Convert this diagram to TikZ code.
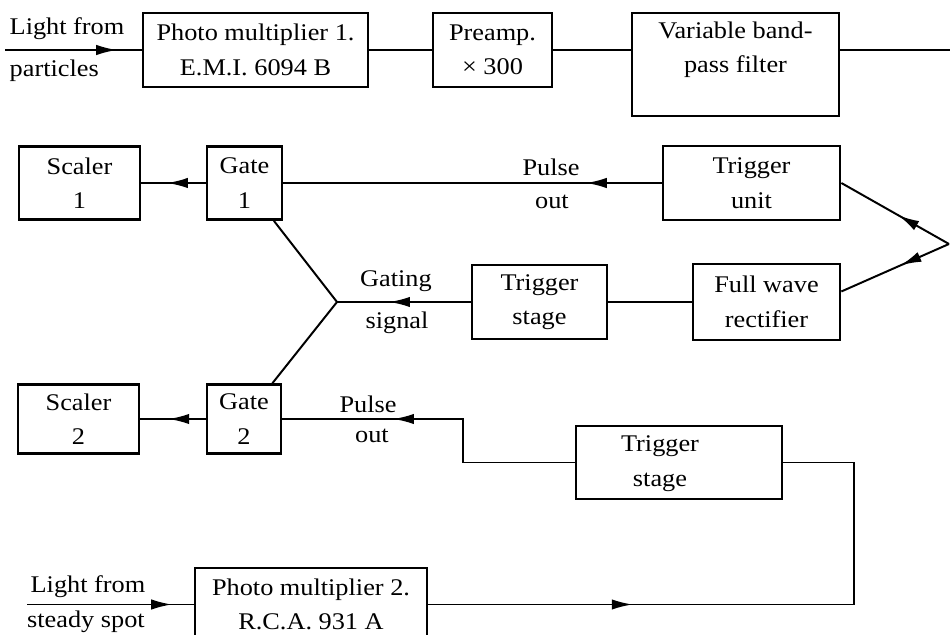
\documentclass[tikz,border=0pt]{standalone}
\usepackage{fontspec}
\setmainfont{Liberation Serif}[FakeStretch=1.1]
\usetikzlibrary{arrows.meta,decorations.markings}

\begin{document}
\begin{tikzpicture}[x=0.025cm,y=-0.025cm,
  blk/.style={draw=black,line width=1.9pt,inner sep=0pt,align=center,font=\fontsize{17}{24.5}\selectfont},
  txt/.style={inner sep=1pt,align=center,font=\fontsize{17}{24.5}\selectfont},
  w/.style={line width=1.4pt},
  mid/.style={w,postaction={decorate,decoration={markings,mark=at position #1 with {\arrow{Latex[length=0.52cm,width=0.26cm]}}}}}]
  \useasboundingbox (0,0) rectangle (950,635);
  % free ends and corners of the signal paths
  \coordinate (inA) at (5,50);
  \coordinate (inB) at (27,604.5);
  \coordinate (edge) at (950,50);
  \coordinate (fork) at (949,244);
  \coordinate (gsig) at (337,302);
  \coordinate (bendL) at (463,419);
  \coordinate (bendR) at (854,500);
  % top row: particle channel
  \node[blk,minimum width=5.625cm,minimum height=1.85cm] (pm1) at (255.5,50) {Photo multiplier 1.\\E.M.I. 6094 B};
  \node[blk,minimum width=2.975cm,minimum height=1.85cm] (pre) at (492.5,50) {Preamp.\\× 300};
  \node[blk,minimum width=5.175cm,minimum height=2.575cm] (filter) at (735.5,64.5) {};
  \node[txt] (filtertxt) at (735.5,50) {Variable band-\\pass filter};
  % middle rows
  \node[blk,minimum width=3.025cm,minimum height=1.825cm] (sc1) at (79.5,183) {Scaler\\1};
  \node[blk,minimum width=1.875cm,minimum height=1.825cm] (gate1) at (244.5,183) {Gate\\1};
  \node[blk,minimum width=4.425cm,minimum height=1.85cm] (trig) at (751.5,183) {Trigger\\unit};
  \node[blk,minimum width=3.675cm,minimum height=1.9cm] (fwr) at (766.5,302) {Full wave\\rectifier};
  \node[blk,minimum width=3.375cm,minimum height=1.85cm] (ts1) at (539.5,302) {Trigger\\stage};
  \node[blk,minimum width=3.025cm,minimum height=1.725cm] (sc2) at (78.5,419) {Scaler\\2};
  \node[blk,minimum width=1.85cm,minimum height=1.725cm] (gate2) at (244,419) {Gate\\2};
  \node[blk,minimum width=5.15cm,minimum height=1.825cm] (ts2) at (679,462.5) {};
  \node[txt] (ts2txt) at (660,463.5) {Trigger\\stage};
  % bottom row: steady spot channel
  \node[blk,minimum width=5.8cm,minimum height=1.825cm] (pm2) at (311,604.5) {Photo multiplier 2.\\R.C.A. 931 A};
  % free texts
  \node[txt,anchor=west] (la1) at (8,29) {Light from};
  \node[txt,anchor=west] (la2) at (8,71) {particles};
  \node[txt] (lb1) at (88,587) {Light from};
  \node[txt] (lb2) at (86,622) {steady spot};
  \node[txt] (po1) at (551,167) {Pulse};
  \node[txt] (po2) at (552,202) {out};
  \node[txt] (gs1) at (396,281) {Gating};
  \node[txt] (gs2) at (397,323) {signal};
  \node[txt] (po3) at (368,404) {Pulse};
  \node[txt] (po4) at (372,436) {out};
  % connections
  \draw[mid=0.82] (inA) -- (pm1.west);
  \draw[w] (pm1.east) -- (pre.west);
  \draw[w] (pre.east) -- (pre.east -| filter.west);
  \draw[w] (filter.east |- edge) -- (edge);
  \draw[mid=0.47] (fork) -- (trig.east);
  \draw[mid=0.45] (fork) -- (fwr.8.5);
  \draw[mid=0.2] (trig.west) -- (gate1.east);
  \draw[mid=0.6] (gate1.west) -- (sc1.east);
  \draw[w] (fwr.west) -- (ts1.east);
  \draw[mid=0.61] (ts1.west) -- (gsig);
  \draw[w] (gate1) -- (gsig) -- (gate2);
  \draw[mid=0.57] (gate2.west) -- (sc2.east);
  \draw[mid=0.67] (ts2.west) -| (bendL) -- (gate2.east);
  \draw[mid=0.87] (inB) -- (pm2.west);
  \draw[mid=0.32] (pm2.east) -| (bendR) |- (ts2.east);
\end{tikzpicture}
\end{document}
